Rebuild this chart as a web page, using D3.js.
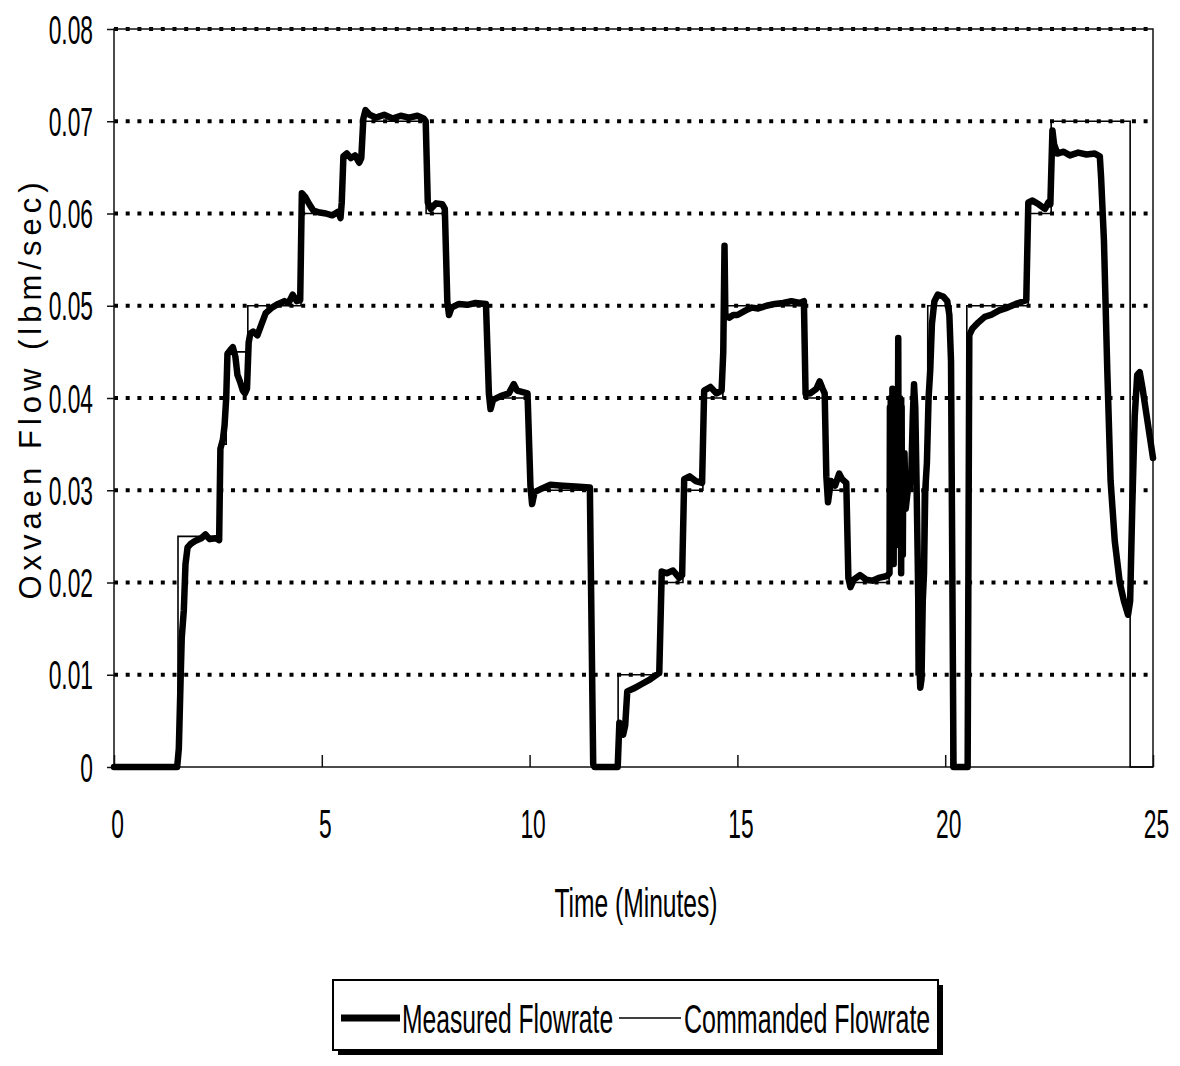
<!DOCTYPE html>
<html>
<head>
<meta charset="utf-8">
<script src="https://cdn.jsdelivr.net/npm/d3@7"></script>
<style>
  html, body { margin: 0; padding: 0; background: #fff; }
  svg { display: block; }
  text { font-family: "Liberation Sans", Arial, sans-serif; fill: #000; }
</style>
</head>
<body>
<svg id="chart" width="1180" height="1066"></svg>
<script>
// Oxygen flow test run: measured vs commanded flowrate over 25 minutes.

const yTicks = [0, 0.01, 0.02, 0.03, 0.04, 0.05, 0.06, 0.07, 0.08];
const yTickLabels = ["0", "0.01", "0.02", "0.03", "0.04", "0.05", "0.06", "0.07", "0.08"];
const xTicks = [0, 5, 10, 15, 20, 25];
const xTickLabels = ["0", "5", "10", "15", "20", "25"];
const seriesNames = ["Measured Flowrate", "Commanded Flowrate"];

// Commanded flowrate set points (minutes, lbm/sec), held until the next entry.
const cmdTime = [0, 1.54, 2.55, 2.70, 3.22, 4.50, 5.48, 5.97, 7.51, 7.99, 9.00, 9.99, 11.50, 12.13,
  13.16, 13.69, 14.17, 14.65, 16.60, 17.12, 17.65, 18.65, 18.70, 18.74, 18.80, 18.84, 18.90, 18.94,
  19.00, 19.22, 19.30, 19.45, 19.58, 20.14, 20.52, 22.00, 22.55, 24.45, 25.0];
const cmdFlow = [0, 0.025, 0.035, 0.045, 0.05, 0.06, 0.066, 0.07, 0.06, 0.05, 0.04, 0.03, 0, 0.01,
  0.02, 0.03, 0.04, 0.05, 0.04, 0.03, 0.02, 0.04, 0.03, 0.04, 0.025, 0.04, 0.03, 0.04,
  0.03, 0.04, 0.01, 0.03, 0.05, 0, 0.05, 0.06, 0.07, 0, 0];

// Measured flowrate samples (minutes, lbm/sec).
const measTime = [0, 1.52, 1.56, 1.60, 1.63, 1.68, 1.72, 1.77, 1.85, 1.95, 2.10, 2.20, 2.30, 2.45, 2.53,
  2.56, 2.62, 2.66, 2.70, 2.73, 2.80, 2.86, 2.92, 2.97, 3.03, 3.10, 3.15, 3.20, 3.24, 3.28, 3.35, 3.45,
  3.55, 3.65, 3.80, 3.95, 4.10, 4.20, 4.30, 4.40, 4.48,
  4.52, 4.60, 4.70, 4.80, 4.95, 5.10, 5.25, 5.40, 5.45, 5.48, 5.52, 5.60, 5.70, 5.80, 5.90, 5.95,
  6.00, 6.05, 6.15, 6.30, 6.50, 6.70, 6.90, 7.10, 7.30, 7.45, 7.50,
  7.55, 7.62, 7.75, 7.90, 7.96, 8.02, 8.06, 8.12, 8.30, 8.50, 8.70, 8.95, 9.02, 9.06, 9.12, 9.30,
  9.50, 9.62, 9.70, 9.95, 10.02, 10.06, 10.12, 10.30, 10.50, 10.80, 11.10, 11.45, 11.53, 11.56,
  12.12, 12.16, 12.20, 12.25, 12.30, 12.35, 12.50, 12.70, 12.90, 13.12, 13.18, 13.30, 13.45, 13.60,
  13.67, 13.72, 13.85, 14.00, 14.15, 14.20, 14.35, 14.50, 14.62, 14.66, 14.69, 14.71, 14.80, 14.90,
  15.00, 15.20, 15.35, 15.50, 15.70, 15.90, 16.10, 16.30, 16.50, 16.60,
  16.64, 16.75, 16.90, 16.98, 17.05, 17.10, 17.14, 17.18, 17.25, 17.35, 17.45, 17.52, 17.62,
  17.67, 17.72, 17.80, 17.95, 18.10, 18.25, 18.40, 18.60, 18.66,
  18.67, 18.68, 18.69, 18.70, 18.71, 18.72, 18.73, 18.74, 18.75, 18.76, 18.77, 18.78, 18.79, 18.80,
  18.81, 18.82, 18.83, 18.84, 18.85, 18.86, 18.87, 18.88, 18.89, 18.90, 18.91, 18.92, 18.93, 18.94,
  18.95, 18.96, 18.97, 18.98, 18.99, 19.00, 19.02, 19.05, 19.10, 19.18, 19.22, 19.25, 19.28, 19.31,
  19.34, 19.37,
  19.40, 19.43, 19.46, 19.49, 19.52, 19.56, 19.60, 19.64, 19.68, 19.74, 19.82, 19.95, 20.05, 20.10,
  20.14, 20.20, 20.54, 20.58, 20.65, 20.80, 20.95, 21.10, 21.30, 21.50, 21.70, 21.95,
  22.00, 22.10, 22.25, 22.40, 22.48, 22.53, 22.58, 22.62, 22.70, 22.85, 23.00, 23.20, 23.40, 23.60,
  23.72, 23.75, 23.82, 23.90, 23.98, 24.08, 24.20, 24.30, 24.40, 24.45, 24.50, 24.56, 24.62, 24.68,
  24.75, 24.85, 24.95, 25.0];
const measFlow = [0, 0, 0.002, 0.009, 0.014, 0.017, 0.022, 0.0238, 0.0242, 0.0245, 0.0248, 0.0252, 0.0247, 0.0248, 0.0246,
  0.0345, 0.0355, 0.037, 0.040, 0.0448, 0.0452, 0.0455, 0.0445, 0.0425, 0.0418, 0.0408, 0.0405, 0.041, 0.046, 0.047, 0.0472, 0.0468,
  0.048, 0.0492, 0.0498, 0.0502, 0.0505, 0.0503, 0.0512, 0.0505, 0.0506,
  0.0622, 0.0618, 0.061, 0.0603, 0.0601, 0.060, 0.0598, 0.0602, 0.0595, 0.0612, 0.0662, 0.0665, 0.066, 0.0663, 0.0655, 0.066,
  0.0703, 0.0712, 0.0707, 0.0704, 0.0707, 0.0703, 0.0706, 0.0704, 0.0706, 0.0703, 0.070,
  0.0612, 0.0605, 0.0611, 0.061, 0.0605, 0.0505, 0.049, 0.0498, 0.0502, 0.0501, 0.0503, 0.0502, 0.0405, 0.0388, 0.0398, 0.0402,
  0.0405, 0.0415, 0.0408, 0.0405, 0.0305, 0.0285, 0.0298, 0.0302, 0.0306, 0.0305, 0.0304, 0.0303, 0.0003, 0,
  0, 0.0048, 0.0042, 0.0035, 0.0045, 0.0082, 0.0085, 0.009, 0.0095, 0.0102, 0.0212, 0.021, 0.0213, 0.0205,
  0.0208, 0.0312, 0.0315, 0.031, 0.0308, 0.0408, 0.0412, 0.0405, 0.0408, 0.045, 0.0565, 0.049, 0.0487, 0.049,
  0.049, 0.0495, 0.0498, 0.0497, 0.050, 0.0502, 0.0503, 0.0505, 0.0503, 0.0505,
  0.0405, 0.0405, 0.041, 0.0418, 0.041, 0.0405, 0.0315, 0.0287, 0.031, 0.0305, 0.0318, 0.0312, 0.0308,
  0.0205, 0.0195, 0.0203, 0.0208, 0.0203, 0.0202, 0.0205, 0.0207, 0.021,
  0.039, 0.026, 0.040, 0.029, 0.037, 0.024, 0.041, 0.031, 0.038, 0.022, 0.039, 0.028, 0.036, 0.025,
  0.040, 0.030, 0.037, 0.027, 0.035, 0.031, 0.0465, 0.030, 0.038, 0.024, 0.040, 0.032, 0.036, 0.021,
  0.039, 0.029, 0.034, 0.023, 0.032, 0.030, 0.034, 0.028, 0.030, 0.031, 0.038, 0.0415, 0.039, 0.031,
  0.022, 0.012,
  0.0086, 0.0095, 0.018, 0.021, 0.030, 0.033, 0.040, 0.043, 0.048, 0.0505, 0.0512, 0.051, 0.0505, 0.049,
  0.044, 0, 0, 0.0468, 0.0475, 0.0482, 0.0488, 0.049, 0.0495, 0.0498, 0.0502, 0.0506,
  0.0612, 0.0614, 0.061, 0.0605, 0.0612, 0.061, 0.069, 0.0675, 0.0665, 0.0667, 0.0663, 0.0666, 0.0664, 0.0665,
  0.0662, 0.064, 0.057, 0.043, 0.031, 0.0245, 0.020, 0.018, 0.0165, 0.018, 0.028, 0.038, 0.0425, 0.0428,
  0.041, 0.038, 0.035, 0.0335];

const W = 1180, H = 1066;
const plot = { left: 114, right: 1153, top: 29, bottom: 767 };
const svg = d3.select("#chart");

const x = d3.scaleLinear().domain([0, 25]).range([plot.left, plot.right]);
const y = d3.scaleLinear().domain([0, 0.08]).range([plot.bottom, plot.top]);

// Dotted horizontal gridlines
svg.append("g")
  .selectAll("line")
  .data(yTicks.filter(v => v > 0))
  .join("line")
  .attr("x1", plot.left).attr("x2", plot.right)
  .attr("y1", d => y(d)).attr("y2", d => y(d))
  .attr("stroke", "#000")
  .attr("stroke-width", 4)
  .attr("stroke-dasharray", "4 7.7");

// Frame: axes plus thin top/right border
const frame = svg.append("g").attr("stroke", "#111").attr("stroke-width", 1.5).attr("fill", "none");
frame.append("rect")
  .attr("x", plot.left).attr("y", plot.top)
  .attr("width", plot.right - plot.left).attr("height", plot.bottom - plot.top);

// Y axis
const yAxis = svg.append("g")
  .attr("transform", `translate(${plot.left},0)`)
  .call(d3.axisLeft(y).tickValues(yTicks).tickFormat((d, i) => yTickLabels[i]).tickSize(7).tickSizeOuter(0));
yAxis.select(".domain").remove();
yAxis.selectAll("line").attr("stroke", "#111").attr("stroke-width", 1.5);
yAxis.selectAll("text")
  .attr("x", null).attr("dy", null)
  .attr("font-size", 40)
  .attr("text-anchor", "end")
  .attr("transform", "translate(-21,14) scale(0.57,1)");

// X axis (ticks point inward)
const xAxis = svg.append("g")
  .attr("transform", `translate(0,${plot.bottom})`)
  .call(d3.axisBottom(x).tickValues(xTicks).tickFormat((d, i) => xTickLabels[i]).tickSizeInner(-12).tickSizeOuter(0));
xAxis.select(".domain").remove();
xAxis.selectAll("line").attr("stroke", "#111").attr("stroke-width", 1.5);
xAxis.selectAll("text")
  .attr("y", null).attr("dy", null)
  .attr("font-size", 40)
  .attr("text-anchor", "middle")
  .attr("transform", "translate(3,71) scale(0.57,1)");

// Axis titles
svg.append("text")
  .attr("font-size", 40)
  .attr("text-anchor", "middle")
  .attr("transform", "translate(636,917) scale(0.615,1)")
  .text("Time (Minutes)");

svg.append("text")
  .attr("font-size", 31)
  .attr("text-anchor", "middle")
  .attr("textLength", 417)
  .attr("lengthAdjust", "spacing")
  .attr("transform", "translate(41,391) rotate(-90)")
  .text("Oxvaen Flow (lbm/sec)");

// Series
const measured = measTime.map((t, i) => [t, measFlow[i]]);
const commanded = cmdTime.map((t, i) => [t, cmdFlow[i]]);

const measLine = d3.line().x(d => x(d[0])).y(d => y(d[1])).curve(d3.curveLinear);
const cmdLine = d3.line().x(d => x(d[0])).y(d => y(d[1])).curve(d3.curveStepAfter);

svg.append("path")
  .datum(measured)
  .attr("d", measLine)
  .attr("fill", "none")
  .attr("stroke", "#000")
  .attr("stroke-width", 6.5)
  .attr("stroke-linejoin", "round")
  .attr("stroke-linecap", "round");

svg.append("path")
  .datum(commanded)
  .attr("d", cmdLine)
  .attr("fill", "none")
  .attr("stroke", "#000")
  .attr("stroke-width", 1.6);

// Legend box with drop shadow
const lg = svg.append("g");
lg.append("rect").attr("x", 338).attr("y", 985).attr("width", 605).attr("height", 70).attr("fill", "#000");
lg.append("rect").attr("x", 333).attr("y", 980).attr("width", 605).attr("height", 70)
  .attr("fill", "#fff").attr("stroke", "#000").attr("stroke-width", 2);

lg.append("line").attr("x1", 341).attr("x2", 400).attr("y1", 1018).attr("y2", 1018)
  .attr("stroke", "#000").attr("stroke-width", 7);
lg.append("text").attr("font-size", 40)
  .attr("transform", "translate(402,1033) scale(0.617,1)")
  .text(seriesNames[0]);

lg.append("line").attr("x1", 619).attr("x2", 681).attr("y1", 1018).attr("y2", 1018)
  .attr("stroke", "#000").attr("stroke-width", 1.6);
lg.append("text").attr("font-size", 40)
  .attr("transform", "translate(684,1033) scale(0.626,1)")
  .text(seriesNames[1]);
</script>
</body>
</html>
